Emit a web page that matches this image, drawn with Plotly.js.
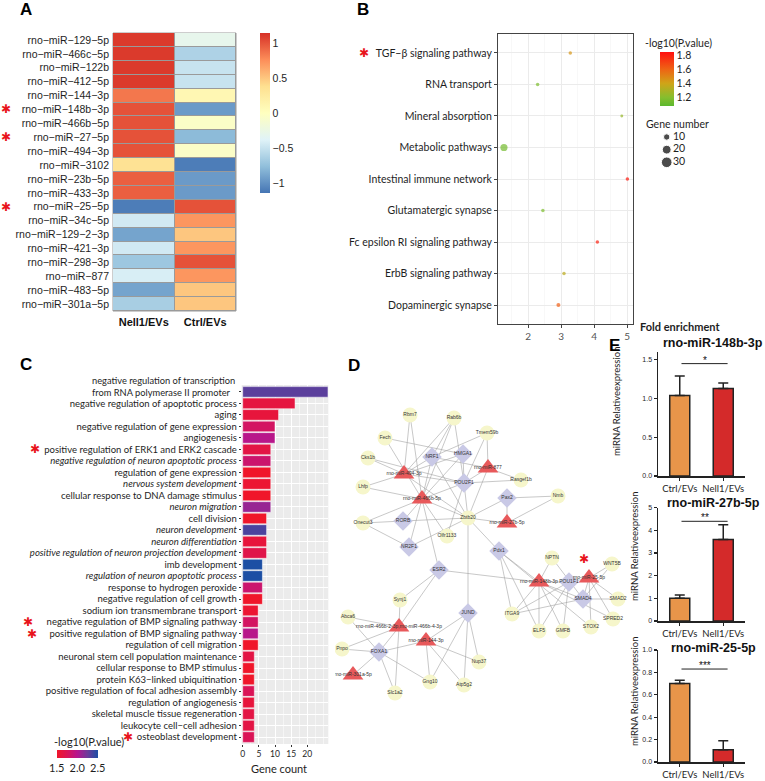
<!DOCTYPE html>
<html><head><meta charset="utf-8">
<script src="https://cdn.plot.ly/plotly-3.0.1.min.js"></script>
<style>html,body{margin:0;padding:0;background:#fff}#chart{width:765px;height:781px}</style>
</head><body><div id="chart"></div>
<script>
// ---------------- DATA ----------------
// Panel A heatmap
const heatRows = ['rno−miR−129−5p','rno−miR−466c−5p','rno−miR−122b','rno−miR−412−5p','rno−miR−144−3p','rno−miR−148b−3p','rno−miR−466b−5p','rno−miR−27−5p','rno−miR−494−3p','rno−miR−3102','rno−miR−23b−5p','rno−miR−433−3p','rno−miR−25−5p','rno−miR−34c−5p','rno−miR−129−2−3p','rno−miR−421−3p','rno−miR−298−3p','rno−miR−877','rno−miR−483−5p','rno−miR−301a−5p'];
const heatCols = ['Nell1/EVs','Ctrl/EVs'];
const nell1Z = [1.1,1.1,1.1,1.1,0.85,1.0,1.0,1.0,1.0,0.35,0.95,0.95,-1.1,-0.45,-0.9,-0.45,-0.7,-0.42,-0.9,-0.65];
const ctrlZ  = [-0.3,-0.62,-0.5,-0.5,0.1,-0.95,-0.05,-0.78,-0.05,-1.1,-0.95,-0.95,1.0,0.72,0.5,0.72,1.0,0.72,0.5,0.5];
const heatStarRows = [5,7,12];

// Panel B KEGG dot plot
const pathways = ['TGF−β signaling pathway','RNA transport','Mineral absorption','Metabolic pathways','Intestinal immune network','Glutamatergic synapse','Fc epsilon RI signaling pathway','ErbB signaling pathway','Dopaminergic synapse'];
const foldEnr = [3.28,2.29,4.84,1.27,5.01,2.45,4.10,3.09,2.92];
const pathP   = [1.45,1.18,1.25,1.15,1.82,1.18,1.80,1.35,1.62];
const geneNum = [2,2,1,13,2,2,2,2,3];
const legendCounts = [10,20,30];

// Panel C GO bar chart
const goTerms = ['negative regulation of transcription<br>from RNA polymerase II promoter','negative regulation of apoptotic process','aging','negative regulation of gene expression','angiogenesis','positive regulation of ERK1 and ERK2 cascade','negative regulation of neuron apoptotic process','regulation of gene expression','nervous system development','cellular response to DNA damage stimulus','neuron migration','cell division','neuron development','neuron differentiation','positive regulation of neuron projection development','imb development','regulation of neuron apoptotic process','response to hydrogen peroxide','negative regulation of cell growth','sodium ion transmembrane transport','negative regulation of BMP signaling pathway','positive regulation of BMP signaling pathway','regulation of cell migration','neuronal stem cell population maintenance','cellular response to BMP stimulus','protein K63−linked ubiquitination','positive regulation of focal adhesion assembly','regulation of angiogenesis','skeletal muscle tissue regeneration','leukocyte cell−cell adhesion','osteoblast development'];
const goCounts = [26.4,16.2,11.1,10,10,8.7,8.7,8.7,8.7,8.7,8.7,7.4,7.4,7.4,7.4,6.1,6.1,6.1,6.1,4.8,4.8,4.8,4.8,3.6,3.6,3.6,3.6,3.6,3.6,3.6,3.6];
const goP = [2.3,1.62,1.6,1.8,1.98,1.65,1.85,1.5,1.55,1.5,2.1,1.5,2.35,1.6,1.68,2.5,2.5,1.85,1.5,1.55,1.8,1.98,1.5,1.65,1.5,1.5,1.75,1.6,1.65,1.65,1.75];
const goItalic = [6,8,10,12,13,14,16];
const goStarRows = [5,20,21,30];

// Panel D network (layout positions of the network drawing)
const nodeNames = ['Rbm7','Rab6b','Tmem59b','Fech','Cks1b','NRF1','HMGA1','rno-miR-877','rno-miR-494-3p','Rasgef1b','POU2F1','Lhfp','Pax2','Nmb','rno-miR-466b-5p','Onecut3','RORB','Zbtb20','rno-miR-27b-5p','Olfr1133','NR2F1','Pdx1','NPTN','ESR2','rno-miR-148b-3p','POU1F1','rno-miR-25-5p','WNT5B','SMAD4','SMAD2','SPRED2','STOX2','GMFB','ELF5','ITGA9','Synj1','JUND','Abca6','rno-miR-466b-2-3p,rno-miR-466b-4-3p','rno-miR-144-3p','Pnpo','FOXA1','Nup37','rno-miR-301a-5p','Gng10','Atp5g2','Slc1a2'];
const nodeType = ['g','g','g','g','g','t','t','m','m','g','t','g','t','g','m','g','t','g','m','g','t','t','g','t','m','t','m','g','t','g','g','g','g','g','g','g','t','g','m','m','g','t','g','m','g','g','g'];
const nodeX = [410,454,487,385,368,432,463,488,404,521,464,363,507,558,422,363,403,468,507,447,409,499,552,439,539,569,589,612,583,618,613,591,563,539,512,400,468,348,399,426,342,379,479,353,430,464,395];
const nodeY = [415,418,433,438,458,457,454,468,474,480,483,487,498,496,499,523,521,518,523,536,547,551,558,570,582,582,578,564,599,599,619,627,631,631,614,600,613,617,627,641,649,652,662,675,682,685,693];
const edgesFrom = ['Rbm7','Rbm7','Rab6b','Rab6b','Rab6b','Rab6b','Tmem59b','Tmem59b','Tmem59b','Fech','Fech','Cks1b','Cks1b','NRF1','NRF1','NRF1','NRF1','HMGA1','HMGA1','HMGA1','rno-miR-877','rno-miR-877','rno-miR-877','rno-miR-494-3p','rno-miR-494-3p','rno-miR-494-3p','POU2F1','POU2F1','POU2F1','POU2F1','Lhfp','Pax2','Pax2','Pax2','Nmb','rno-miR-466b-5p','rno-miR-466b-5p','rno-miR-466b-5p','rno-miR-466b-5p','rno-miR-466b-5p','rno-miR-466b-5p','Onecut3','Onecut3','RORB','NR2F1','Zbtb20','Zbtb20','Zbtb20','Pdx1','Pdx1','Pdx1','Pdx1','ESR2','ESR2','ESR2','NPTN','NPTN','rno-miR-148b-3p','rno-miR-148b-3p','rno-miR-148b-3p','rno-miR-148b-3p','rno-miR-148b-3p','rno-miR-148b-3p','POU1F1','POU1F1','POU1F1','POU1F1','rno-miR-25-5p','rno-miR-25-5p','rno-miR-25-5p','rno-miR-25-5p','rno-miR-25-5p','SMAD4','SMAD4','SMAD4','Synj1','Abca6','Abca6','rno-miR-466b-2-3p,rno-miR-466b-4-3p','rno-miR-466b-2-3p,rno-miR-466b-4-3p','rno-miR-466b-2-3p,rno-miR-466b-4-3p','rno-miR-144-3p','rno-miR-144-3p','rno-miR-144-3p','rno-miR-144-3p','rno-miR-144-3p','FOXA1','FOXA1','FOXA1','FOXA1','JUND','JUND','JUND'];
const edgesTo = ['rno-miR-494-3p','rno-miR-466b-5p','rno-miR-494-3p','rno-miR-466b-5p','POU2F1','NRF1','NRF1','rno-miR-877','POU2F1','HMGA1','rno-miR-466b-5p','rno-miR-494-3p','POU2F1','rno-miR-494-3p','rno-miR-466b-5p','rno-miR-877','Zbtb20','rno-miR-466b-5p','POU2F1','rno-miR-494-3p','Rasgef1b','POU2F1','Zbtb20','Lhfp','POU2F1','Zbtb20','Rasgef1b','rno-miR-466b-5p','Olfr1133','Zbtb20','rno-miR-466b-5p','Nmb','rno-miR-27b-5p','Zbtb20','rno-miR-27b-5p','Onecut3','RORB','NR2F1','Zbtb20','Olfr1133','ESR2','RORB','NR2F1','Zbtb20','Zbtb20','rno-miR-27b-5p','Pdx1','JUND','rno-miR-148b-3p','ITGA9','ELF5','STOX2','rno-miR-148b-3p','Synj1','rno-miR-466b-2-3p,rno-miR-466b-4-3p','rno-miR-148b-3p','SMAD4','POU1F1','ITGA9','ELF5','GMFB','SMAD4','SPRED2','rno-miR-25-5p','ITGA9','ELF5','GMFB','WNT5B','SMAD2','SPRED2','STOX2','SMAD4','SMAD2','ITGA9','WNT5B','rno-miR-466b-2-3p,rno-miR-466b-4-3p','rno-miR-466b-2-3p,rno-miR-466b-4-3p','FOXA1','Pnpo','FOXA1','Slc1a2','FOXA1','JUND','Nup37','Atp5g2','Gng10','Pnpo','rno-miR-301a-5p','Slc1a2','Gng10','Nup37','Atp5g2','Gng10'];

// Panel E qPCR bars
const eGroups = ['Ctrl/EVs','Nell1/EVs'];
const e148Mean = [1.04,1.13], e148Err = [0.25,0.07];
const e27Mean  = [1.0,3.6],  e27Err  = [0.15,0.65];
const e25Mean  = [0.70,0.11], e25Err = [0.03,0.08];

// ---------------- HELPERS / STYLE ----------------
const W=765,H=781;
const PX=v=>v/W, PY=v=>1-v/H;
const FONT='Lato, "Open Sans", sans-serif';
const ARIAL='"Liberation Sans", Arial, sans-serif';
const TXT='#1e1e1e';
const STAR='✱', STARC='#e8141c';
const sizeOf = n => Math.sqrt(5+3.6*n);
const rdylbu = [[0,'#4575B4'],[1/6,'#91BFDB'],[2/6,'#E0F3F8'],[0.5,'#FFFFBF'],[4/6,'#FEE090'],[5/6,'#FC8D59'],[1,'#D73027']];
const gyr = [[0,'#5CB82E'],[0.16,'#86BE2E'],[0.42,'#D0A418'],[0.68,'#EE6414'],[1,'#FF1010']];
const rpb = [[0,'#F0162A'],[0.25,'#DA1457'],[0.5,'#B5168E'],[0.75,'#6B3B9A'],[1,'#1C4FA4']];

const traces=[];
const annotations=[];
const shapes=[];
const ann=(o)=>annotations.push(Object.assign({showarrow:false,xanchor:'center',yanchor:'middle',font:{family:FONT,size:11,color:TXT}},o));

// ---- A ----
const heatIdx = heatRows.map((_,i)=>i);
traces.push({type:'heatmap',x:[0,1],y:heatIdx,z:heatRows.map((_,i)=>[nell1Z[i],ctrlZ[i]]),
  xaxis:'x',yaxis:'y',colorscale:rdylbu,zmin:-1.14,zmax:1.14,xgap:1,ygap:1,hoverinfo:'skip',
  colorbar:{x:PX(260),xanchor:'left',xpad:0,y:PY(113),yanchor:'middle',ypad:0,len:160/H,lenmode:'fraction',thickness:10,
    outlinewidth:0,ticks:'',tickvals:[-1,-0.5,0,0.5,1],ticktext:['−1','−0.5','0','0.5','1'],
    tickfont:{family:ARIAL,size:10.5,color:TXT}}});
shapes.push({type:'rect',xref:'x domain',yref:'y domain',x0:0,x1:1,y0:0,y1:1,fillcolor:'#9a9a9a',line:{color:'#9a9a9a',width:1},layer:'below'});
heatStarRows.forEach(r=>ann({xref:'paper',yref:'y',x:PX(6),y:r,text:STAR,font:{family:'DejaVu Sans',size:12,color:STARC}}));

// ---- B ----
const pathIdx = pathways.map((_,i)=>i+1);
traces.push({type:'scatter',mode:'markers',x:foldEnr,y:pathIdx,xaxis:'x2',yaxis:'y2',hoverinfo:'skip',
  marker:{size:geneNum.map(sizeOf),color:pathP,colorscale:gyr,cmin:1.08,cmax:1.85,line:{width:0},
    colorbar:{x:PX(660),xanchor:'left',xpad:0,y:PY(79),yanchor:'middle',ypad:0,len:54/H,lenmode:'fraction',thickness:14,
      outlinewidth:0,ticks:'',tickvals:[1.2,1.4,1.6,1.8],ticktext:['1.2','1.4','1.6','1.8'],tickfont:{family:FONT,size:10.5,color:TXT}}}});
traces.push({type:'scatter',mode:'markers',x:legendCounts.map(()=>11.7),y:legendCounts,xaxis:'x8',yaxis:'y8',hoverinfo:'skip',
  marker:{size:legendCounts.map(sizeOf),color:'#000'}});
traces.push({type:'scatter',mode:'text',x:legendCounts.map(()=>18),y:legendCounts,text:legendCounts.map(String),textposition:'middle right',
  xaxis:'x8',yaxis:'y8',hoverinfo:'skip',textfont:{family:FONT,size:10.5,color:TXT}});
ann({xref:'paper',yref:'paper',x:PX(678),y:PY(43),text:'-log10(P.value)',font:{family:FONT,size:10.5,color:TXT}});
ann({xref:'paper',yref:'paper',x:PX(677),y:PY(124),text:'Gene number',font:{family:FONT,size:10.5,color:TXT}});
ann({xref:'paper',yref:'paper',x:PX(680),y:PY(326),text:'<b>Fold enrichment</b>',font:{family:FONT,size:11,color:TXT}});
ann({xref:'paper',yref:'y2',x:PX(364),y:1,text:STAR,font:{family:'DejaVu Sans',size:12,color:STARC}});

// ---- C ----
const goIdx = goTerms.map((_,i)=>i+1);
const goLabels = goTerms.map((t,i)=>i===0?'':(goItalic.includes(i)?'<i>'+t+'</i>':t));
traces.push({type:'bar',orientation:'h',x:goCounts,y:goIdx,xaxis:'x3',yaxis:'y3',width:0.92,hoverinfo:'skip',
  marker:{color:goP,colorscale:rpb,cmin:1.5,cmax:2.5,line:{color:'#fff',width:0.5},
    colorbar:{orientation:'h',x:PX(77.2),xanchor:'center',xpad:0,y:PY(750),yanchor:'top',ypad:0,len:41/W,lenmode:'fraction',thickness:8,
      outlinewidth:0,ticks:'',tickvals:[1.5,2,2.5],ticktext:['1.5','2.0','2.5'],tickfont:{family:FONT,size:11,color:TXT}}}});
shapes.push({type:'rect',xref:'x3 domain',yref:'y3 domain',x0:0,x1:1,y0:0,y1:1,fillcolor:'#EBEBEB',line:{width:0},layer:'below'});
ann({xref:'paper',yref:'paper',x:PX(237),y:PY(386.5),xanchor:'right',align:'left',text:goTerms[0],font:{family:FONT,size:9.3,color:TXT}});
const goStarX = {5:35,20:28,21:32,30:128};
goStarRows.forEach(r=>ann({xref:'paper',yref:'y3',x:PX(goStarX[r]),y:r+1,text:STAR,font:{family:'DejaVu Sans',size:12,color:STARC}}));
ann({xref:'paper',yref:'paper',x:PX(89),y:PY(741),text:'-log10(P.value)',font:{family:FONT,size:11,color:TXT}});
ann({xref:'paper',yref:'paper',x:PX(279),y:PY(768),text:'Gene count',font:{family:FONT,size:11,color:TXT}});

// ---- D ----
const nidx = {}; nodeNames.forEach((n,i)=>nidx[n]=i);
const ex=[],ey=[];
edgesFrom.forEach((f,k)=>{const a=nidx[f],b=nidx[edgesTo[k]];ex.push(nodeX[a],nodeX[b],null);ey.push(nodeY[a],nodeY[b],null);});
traces.push({type:'scatter',mode:'lines',x:ex,y:ey,xaxis:'x4',yaxis:'y4',hoverinfo:'skip',line:{color:'#a3a3a3',width:0.6}});
const nodeStyle = {g:{symbol:'circle',size:15,color:'#F6F6CB'},t:{symbol:'diamond',size:15,color:'#C9C9E6'},m:{symbol:'triangle-up',size:18,color:'#E8595B'}};
['g','t','m'].forEach(tp=>{
  const ids = nodeNames.map((_,i)=>i).filter(i=>nodeType[i]===tp);
  traces.push({type:'scatter',mode:'markers+text',x:ids.map(i=>nodeX[i]),y:ids.map(i=>nodeY[i]),text:ids.map(i=>nodeNames[i]),
    textposition:'middle center',textfont:{family:ARIAL,size:5,color:'#333'},xaxis:'x4',yaxis:'y4',hoverinfo:'skip',
    marker:{symbol:nodeStyle[tp].symbol,size:nodeStyle[tp].size,color:nodeStyle[tp].color,line:{width:0}}});
});
ann({xref:'x4',yref:'y4',x:584,y:559,text:STAR,font:{family:'DejaVu Sans',size:12,color:STARC}});

// ---- E ----
const eSets = [[e148Mean,e148Err,'x5','y5'],[e27Mean,e27Err,'x6','y6'],[e25Mean,e25Err,'x7','y7']];
eSets.forEach(([m,e,xa,ya])=>{
  traces.push({type:'bar',x:[0,1],y:m,xaxis:xa,yaxis:ya,width:0.46,hoverinfo:'skip',
    marker:{color:['#E8954A','#D42A2A'],line:{color:'#222',width:1.5}},
    error_y:{type:'data',array:e,arrayminus:[0,0],symmetric:false,color:'#222',thickness:1.5,width:5}});
});
const eTitles=[['rno-miR-148b-3p',343,402,616,1.45,'*'],['rno-miR-27b-5p',503,547,634,4.4,'**'],['rno-miR-25-5p',648,692,634,0.83,'***']];
eTitles.forEach(([t,ty,cy,lx,sy,st],k)=>{
  const xa='x'+(5+k), ya='y'+(5+k);
  ann({xref:'paper',yref:'paper',x:PX(713),y:PY(ty),text:'<b>'+t+'</b>',font:{family:ARIAL,size:12.5,color:'#111'}});
  ann({xref:'paper',yref:'paper',x:PX(lx),y:PY(cy),text:'miRNA Relativeexpression',textangle:-90,font:{family:FONT,size:9.5,color:TXT}});
  shapes.push({type:'line',xref:xa,yref:ya,x0:0.04,x1:1.1,y0:sy,y1:sy,line:{color:'#222',width:1}});
  ann({xref:xa,yref:ya,x:0.57,y:sy,yanchor:'bottom',yshift:-4,text:st,font:{family:ARIAL,size:10,color:'#111'}});
});

// panel letters
[['A',26,9],['B',363,9],['C',26,364],['D',354,365],['E',614,345]].forEach(([t,x,y])=>
  ann({xref:'paper',yref:'paper',x:PX(x),y:PY(y),text:'<b>'+t+'</b>',font:{family:ARIAL,size:17,color:'#000'}}));

// ---------------- LAYOUT ----------------
const hid = {showgrid:false,zeroline:false,showticklabels:false,ticks:'',showline:false};
const eX = (dom,an)=>({domain:dom,anchor:an,range:[-0.5,1.5],tickvals:[0,1],ticktext:eGroups,tickangle:0,showgrid:false,zeroline:false,showline:true,linecolor:'#222',linewidth:1.5,
  ticks:'outside',ticklen:3,tickwidth:1.2,tickcolor:'#222',tickfont:{family:FONT,size:9.5,color:TXT}});
const eY = (dom,an,rng,tv,tt)=>({domain:dom,anchor:an,range:rng,tickvals:tv,ticktext:tt,showgrid:false,zeroline:false,showline:true,linecolor:'#222',linewidth:1.5,
  ticks:'outside',ticklen:3,tickwidth:1.2,tickcolor:'#222',tickfont:{family:ARIAL,size:7,color:TXT}});
const eDomX=[PX(658),PX(745)];
const layout = {
  width:W,height:H,margin:{l:0,r:0,t:0,b:0},paper_bgcolor:'#fff',plot_bgcolor:'rgba(0,0,0,0)',showlegend:false,
  font:{family:FONT,color:TXT},
  xaxis:{domain:[PX(113),PX(236)],anchor:'y',range:[-0.5,1.5],tickvals:[0,1],ticktext:heatCols.map(c=>'<b>'+c+'</b>'),tickangle:0,showgrid:false,zeroline:false,ticks:'',
    ticklabelstandoff:3,tickfont:{family:ARIAL,size:11,color:'#111'}},
  yaxis:{domain:[PY(311),PY(33)],anchor:'x',range:[19.5,-0.5],tickvals:heatIdx,ticktext:heatRows,showgrid:false,zeroline:false,ticks:'',
    ticklabelstandoff:3,tickfont:{family:ARIAL,size:10.5,color:TXT}},
  xaxis2:{domain:[PX(498),PX(633)],anchor:'y2',range:[1.09,5.18],tickvals:[2,3,4,5],tickangle:0,showgrid:true,gridcolor:'#EBEBEB',gridwidth:1,zeroline:false,
    minor:{tickmode:'linear',tick0:1.5,dtick:1,showgrid:true,gridcolor:'#F3F3F3',gridwidth:0.6},
    showline:true,mirror:true,linecolor:'#444',linewidth:1,ticks:'outside',ticklen:3,tickcolor:'#444',tickfont:{family:FONT,size:10,color:'#555'}},
  yaxis2:{domain:[PY(324),PY(34)],anchor:'x2',range:[9.6,0.4],tickvals:pathIdx,ticktext:pathways,showgrid:true,gridcolor:'#EBEBEB',gridwidth:1,zeroline:false,
    showline:true,mirror:true,linecolor:'#444',linewidth:1,ticks:'outside',ticklen:3,tickcolor:'#444',tickfont:{family:FONT,size:10.5,color:TXT}},
  xaxis3:{domain:[PX(241.7),PX(328.3)],anchor:'y3',range:[-0.31,26.5],tickvals:[0,5,10,15,20],tickangle:0,showgrid:true,gridcolor:'#fff',gridwidth:1,zeroline:false,
    minor:{tickmode:'linear',tick0:0,dtick:2.5,showgrid:true,gridcolor:'#fff',gridwidth:0.5},
    ticks:'outside',ticklen:2,tickcolor:'#333',tickfont:{family:FONT,size:8.5,color:TXT}},
  yaxis3:{domain:[PY(744),PY(385)],anchor:'x3',range:[31.6,0.4],tickvals:goIdx,ticktext:goLabels,showgrid:true,gridcolor:'#fff',gridwidth:1,zeroline:false,
    ticks:'outside',ticklen:2,tickcolor:'#333',tickfont:{family:FONT,size:9.5,color:TXT}},
  xaxis4:Object.assign({domain:[PX(335),PX(640)],anchor:'y4',range:[335,640]},hid),
  yaxis4:Object.assign({domain:[PY(710),PY(395)],anchor:'x4',range:[710,395]},hid),
  xaxis5:eX(eDomX,'y5'), yaxis5:eY([PY(476),PY(352)],'x5',[0,1.6],[0,0.5,1,1.5],['0.0','0.5','1.0','1.5']),
  xaxis6:eX(eDomX,'y6'), yaxis6:eY([PY(621),PY(507.7)],'x6',[0,5],[0,1,2,3,4,5],['0','1','2','3','4','5']),
  xaxis7:eX(eDomX,'y7'), yaxis7:eY([PY(762),PY(650)],'x7',[0,1],[0,0.2,0.4,0.6,0.8,1],['0.0','0.2','0.4','0.6','0.8','1.0']),
  xaxis8:Object.assign({domain:[PX(655),PX(700)],anchor:'y8',range:[0,45]},hid),
  yaxis8:Object.assign({domain:[PY(170),PY(130)],anchor:'x8',range:[36.09,4.47]},hid),
  annotations:annotations,shapes:shapes
};
Plotly.newPlot('chart',traces,layout,{staticPlot:true,displayModeBar:false});
</script></body></html>
